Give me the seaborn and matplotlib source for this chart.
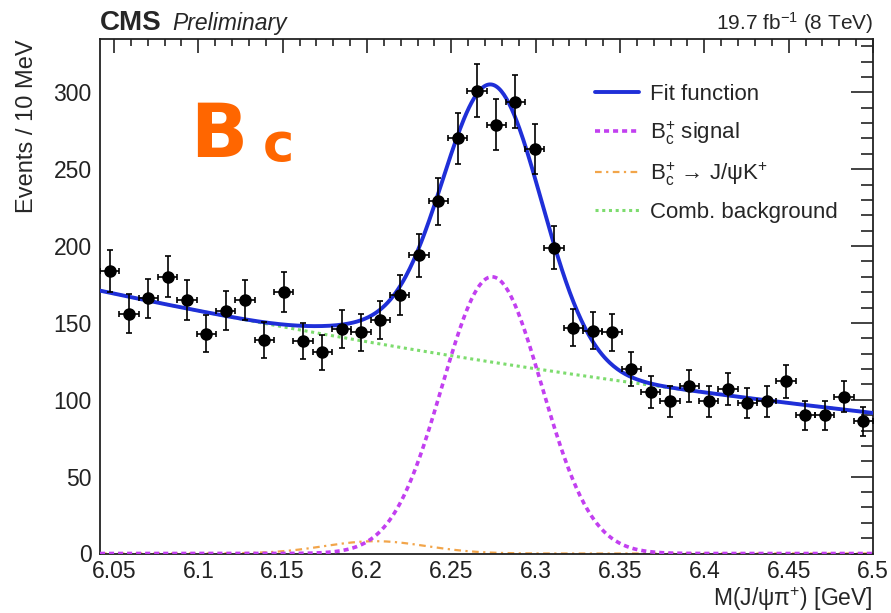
import numpy as np
import pandas as pd
import matplotlib
matplotlib.use("Agg")
import matplotlib.pyplot as plt
import seaborn as sns
from matplotlib.ticker import MultipleLocator

# Histogram of the J/psi pi+ invariant mass
mass_lo, mass_hi, n_bins = 6.0417, 6.5, 40
events = [184, 156, 166, 180, 165, 143, 158, 165, 139, 170,
          138, 131, 146, 144, 152, 168, 194, 229, 270, 301,
          279, 294, 263, 199, 147, 145, 144, 120, 105, 99,
          109, 99, 107, 98, 99, 112, 90, 90, 102, 86]

# Fit components: exponential background, Gaussian B_c signal, J/psi K+ reflection
bkg_norm, bkg_slope = 171.0, -1.366
sig_amp, sig_mean, sig_sigma = 180.0, 6.2741, 0.0295
refl_amp, refl_mean, refl_sigma = 8.0, 6.205, 0.03

legend_labels = ["Fit function", r"B$_{\mathrm{c}}^{+}$ signal",
                 r"B$_{\mathrm{c}}^{+}$ → J/ψK$^{+}$", "Comb. background"]

sns.set_theme(style="white")
plt.rcParams["font.family"] = ["Liberation Sans", "DejaVu Sans"]
plt.rcParams["mathtext.fontset"] = "custom"
plt.rcParams["mathtext.rm"] = "Liberation Sans"
plt.rcParams["mathtext.it"] = "Liberation Sans:italic"
plt.rcParams["mathtext.bf"] = "Liberation Sans:bold"

edges = np.linspace(mass_lo, mass_hi, n_bins + 1)
centers = 0.5 * (edges[:-1] + edges[1:])
half_width = 0.5 * (edges[1] - edges[0])
counts = np.array(events, dtype=float)
data = pd.DataFrame({"mass": centers, "events": counts, "err": np.sqrt(counts)})

m = np.linspace(mass_lo, mass_hi, 600)
bkg = bkg_norm * np.exp(bkg_slope * (m - mass_lo))
sig = sig_amp * np.exp(-0.5 * ((m - sig_mean) / sig_sigma) ** 2)
refl = refl_amp * np.exp(-0.5 * ((m - refl_mean) / refl_sigma) ** 2)
curves = pd.DataFrame({"m": m, "total": bkg + sig + refl, "sig": sig,
                       "refl": refl, "bkg": bkg})

fig = plt.figure(figsize=(8.91, 6.13), dpi=100)
ax = fig.add_axes([100 / 891, 59.5 / 613, 773 / 891, 514.5 / 613])

c_fit, c_sig, c_refl, c_bkg = "#1f2fd8", "#c23ff0", "#f2a54a", "#7ddc6e"

sns.lineplot(data=curves, x="m", y="bkg", ax=ax, color=c_bkg, lw=2.2,
             linestyle=(0, (1, 1.2)), label=legend_labels[3], zorder=2)
sns.lineplot(data=curves, x="m", y="refl", ax=ax, color=c_refl, lw=1.6,
             linestyle=(0, (3, 2, 1, 2)), label=legend_labels[2], zorder=2)
sns.lineplot(data=curves, x="m", y="sig", ax=ax, color=c_sig, lw=2.6,
             linestyle=(0, (1.4, 1.1)), label=legend_labels[1], zorder=3)
sns.lineplot(data=curves, x="m", y="total", ax=ax, color=c_fit, lw=2.8,
             label=legend_labels[0], zorder=4)

ax.errorbar(data["mass"], data["events"], yerr=data["err"], xerr=half_width,
            fmt="o", color="black", ms=8, elinewidth=1.2, capsize=2.5,
            capthick=1.2, zorder=5)

ax.set_xlim(mass_lo, mass_hi)
ax.set_ylim(0, 334.7)

ax.xaxis.set_major_locator(MultipleLocator(0.05))
ax.xaxis.set_minor_locator(MultipleLocator(0.01))
ax.yaxis.set_major_locator(MultipleLocator(50))
ax.yaxis.set_minor_locator(MultipleLocator(10))
ax.xaxis.set_major_formatter(plt.FuncFormatter(lambda v, p: f"{v:g}"))

ax.tick_params(which="both", direction="in", top=True, right=True,
               width=1.2, colors="#222222", labelsize=16.5)
ax.tick_params(axis="x", which="major", length=10, pad=5)
ax.tick_params(axis="x", which="minor", length=5)
ax.tick_params(axis="y", which="major", length=16, pad=6)
ax.tick_params(axis="y", which="minor", length=8.5)
for s in ax.spines.values():
    s.set_linewidth(1.3)
    s.set_color("#222222")

ax.set_xlabel("M(J/ψπ$^{+}$) [GeV]", fontsize=16.5, loc="right")
ax.xaxis.set_label_coords(1.0, -0.061)
ax.set_ylabel("Events / 10 MeV", fontsize=17, loc="top")
ax.yaxis.set_label_coords(-0.08, 1.0)

handles, labels = ax.get_legend_handles_labels()
order = [labels.index(l) for l in legend_labels]
ax.legend([handles[i] for i in order], [labels[i] for i in order],
          loc="upper left", bbox_to_anchor=(0.640, 0.912), frameon=False,
          fontsize=16, handlelength=2.0, handletextpad=0.5,
          labelspacing=0.62, borderaxespad=0, borderpad=0)

ax.text(0.0, 1.017, "CMS", transform=ax.transAxes, fontsize=20,
        fontweight="bold", va="baseline", ha="left")
ax.text(0.093, 1.017, "Preliminary", transform=ax.transAxes, fontsize=16.5,
        fontstyle="italic", va="baseline", ha="left")
ax.text(1.0, 1.017, "19.7 fb$^{-1}$ (8 TeV)", transform=ax.transAxes,
        fontsize=15, va="baseline", ha="right")

ax.text(0.117, 0.771, "B", transform=ax.transAxes, fontsize=54,
        fontweight="bold", color="#ff6600", family="DejaVu Sans",
        va="baseline", ha="left")
ax.text(0.211, 0.763, "c", transform=ax.transAxes, fontsize=38,
        fontweight="bold", color="#ff6600", family="DejaVu Sans",
        va="baseline", ha="left")

fig.savefig("out.png", dpi=100, facecolor="white")
